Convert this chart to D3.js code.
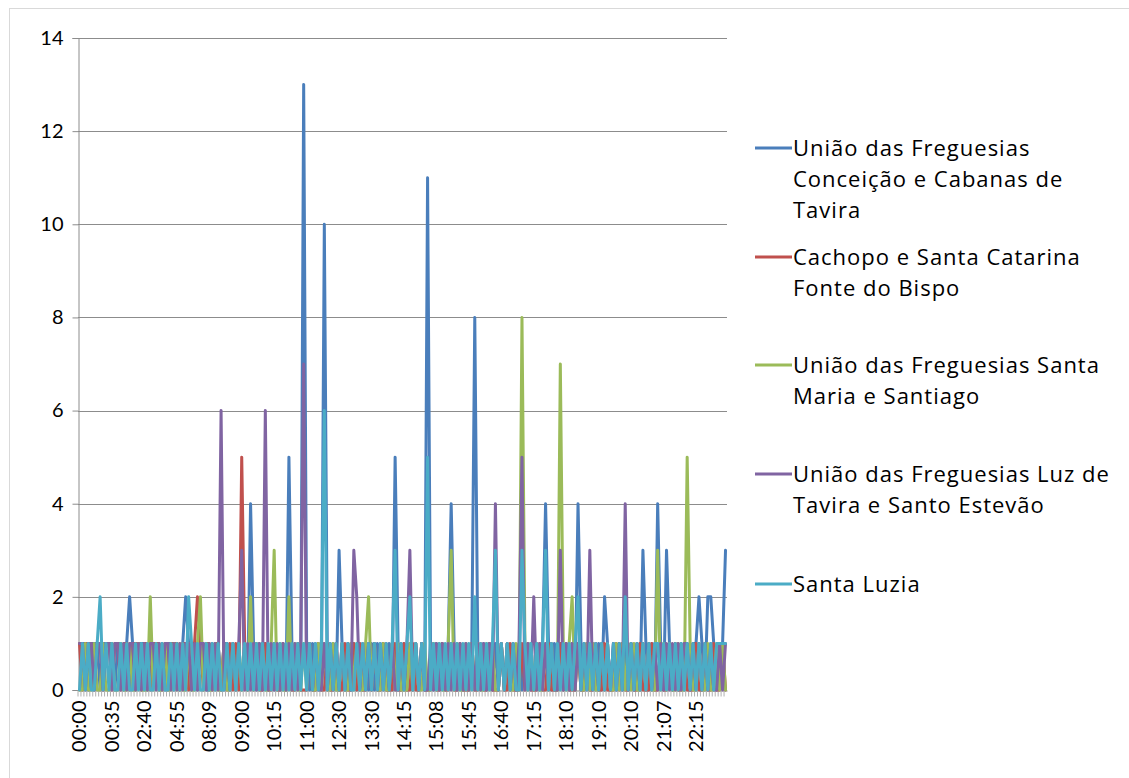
<!DOCTYPE html>
<html lang="pt">
<head>
<meta charset="UTF-8">
<title>Ocorrências por hora</title>
<script src="https://cdn.jsdelivr.net/npm/d3@7/dist/d3.min.js"></script>
<style>
    body { margin: 0; background: #fff; }
    text { font-family: Lato, "Open Sans", sans-serif; fill: #000; }
    .legend text { font-family: "Open Sans", Lato, sans-serif; letter-spacing: 1px; }
    .grid line { stroke: #8c8c8c; stroke-width: 1; }
    .series { fill: none; stroke-width: 3; stroke-linejoin: round; stroke-linecap: round; }
</style>
</head>
<body>
<div id="chart"></div>
<script>
    var width = 1129, height = 778;

    // one label shown every 11 categories (220 categories in total)
    var xLabels = ["00:00","00:35","02:40","04:55","08:09","09:00","10:15","11:00","12:30","13:30",
                   "14:15","15:08","15:45","16:40","17:15","18:10","19:10","20:10","21:07","22:15"];
    var labelStep = 11;
    var yTicks = [0, 2, 4, 6, 8, 10, 12, 14];

    var seriesNames = [
        "União das Freguesias Conceição e Cabanas de Tavira",
        "Cachopo e Santa Catarina Fonte do Bispo",
        "União das Freguesias Santa Maria e Santiago",
        "União das Freguesias Luz de Tavira e Santo Estevão",
        "Santa Luzia"
    ];
    var colors = ["#4a7ebb", "#c0504d", "#9bbb59", "#8064a2", "#4bacc6"];

    var conceicao = [
        1,1,1,0,1,1,1,0,1,1,1,  1,0,1,1,0,1,2,1,0,1,1,  1,0,1,1,1,0,1,0,1,1,0,  1,0,1,2,1,0,1,0,1,1,0,
        0,1,0,1,0,1,1,0,1,0,1,  0,1,0,4,1,0,1,0,1,0,1,  0,1,0,1,0,5,1,0,1,0,13, 1,0,1,0,1,0,10,1,0,1,0,
        3,1,0,1,0,1,0,1,0,1,0,  1,0,1,0,1,0,1,0,5,1,0,  1,0,1,0,1,0,1,0,11,1,0, 1,0,1,0,1,4,1,0,1,0,1,
        0,1,8,1,0,1,0,1,0,1,0,  1,0,1,0,1,0,1,0,1,0,1,  0,1,0,1,4,1,0,1,0,1,0,  1,0,1,0,4,1,0,1,0,1,0,
        1,0,2,1,0,1,0,1,0,1,0,  1,0,1,0,3,1,0,1,0,4,1,  0,3,1,0,1,0,1,0,1,0,1,  1,2,1,0,2,2,1,0,1,1,3
    ];
    var cachopo = [
        1,0,1,1,1,0,1,1,0,1,1,  0,1,1,0,1,1,0,1,1,1,0,  1,1,0,1,1,1,0,1,0,1,1,  1,0,1,1,0,1,1,2,1,0,1,
        1,0,1,1,0,1,0,1,0,1,0,  5,1,0,1,0,1,0,0,1,0,0,  1,0,0,1,0,1,0,0,1,0,0,  0,1,0,0,1,0,0,1,0,0,1,
        0,0,1,0,0,1,0,1,0,0,1,  0,1,0,0,1,0,0,0,1,0,0,  1,0,0,1,0,0,1,0,0,0,1,  0,0,1,0,0,1,0,0,1,0,0,
        0,1,0,0,1,0,0,1,0,0,0,  1,0,0,1,0,0,0,1,0,1,0,  0,0,1,0,0,1,0,0,0,1,0,  1,0,0,0,1,0,0,1,0,0,1,
        0,0,1,0,0,0,1,0,1,0,0,  1,0,0,1,0,0,0,1,0,0,1,  0,0,1,0,1,0,0,1,0,0,0,  1,0,0,1,0,0,1,0,0,1,0
    ];
    var santaMaria = [
        0,0,1,0,0,1,0,0,1,0,0,  1,0,0,1,0,0,1,0,0,1,0,  0,0,2,0,1,0,0,1,0,0,1,  0,1,0,0,1,0,0,1,2,0,1,
        0,0,1,0,0,1,0,0,1,0,1,  0,1,0,2,0,1,0,1,0,0,1,  3,0,1,0,0,2,0,1,0,0,1,  0,1,0,0,1,0,1,0,0,1,0,
        0,1,0,0,1,0,1,0,0,1,2,  0,1,0,0,1,0,0,1,0,1,0,  0,0,1,0,1,0,0,1,0,0,1,  0,1,0,0,1,3,0,1,0,0,1,
        0,1,0,1,0,0,1,0,1,0,0,  1,0,1,0,0,1,0,8,1,0,1,  0,1,0,0,1,0,1,0,0,7,1,  0,1,2,0,1,0,0,1,0,1,0,
        0,1,0,1,0,0,1,0,1,0,1,  0,1,0,0,1,0,1,0,0,3,0,  1,0,1,0,0,1,0,0,5,1,0,  0,1,0,0,1,0,0,1,0,1,0
    ];
    var luzTavira = [
        1,1,0,1,1,0,1,1,0,1,1,  0,1,1,0,1,0,1,1,0,1,0,  1,0,1,1,0,1,0,1,1,0,1,  0,1,0,1,1,0,1,0,1,1,0,
        1,0,1,0,6,0,1,0,1,0,1,  3,0,1,0,1,0,1,0,6,0,1,  0,1,0,1,0,1,0,1,0,1,7,  0,1,0,1,0,0,1,0,1,0,1,
        0,1,0,1,0,3,2,0,1,0,1,  0,1,0,1,0,1,0,1,0,0,1,  0,1,3,0,1,0,1,0,0,1,0,  1,0,1,0,1,0,1,0,1,0,1,
        0,1,0,1,0,1,0,1,0,4,0,  1,0,1,0,1,0,1,5,0,1,0,  2,0,1,0,1,0,1,0,0,3,0,  1,0,1,0,1,0,1,0,3,0,1,
        0,1,0,1,0,1,0,1,0,4,0,  1,0,1,0,1,0,1,0,1,0,1,  0,1,0,1,0,1,0,1,1,0,1,  0,1,0,1,0,1,0,0,1,0,1
    ];
    var santaLuzia = [
        0,1,0,1,0,0,1,2,0,1,0,  1,0,0,1,0,1,0,0,1,0,1,  0,1,0,0,1,0,1,0,0,1,0,  1,0,1,0,2,1,0,1,0,0,1,
        0,1,0,1,0,0,1,0,1,0,1,  0,1,0,1,0,1,0,1,0,1,0,  1,0,1,0,1,0,1,0,1,0,1,  0,1,0,1,0,1,6,0,1,0,1,
        0,1,0,1,0,0,1,0,1,0,1,  0,1,0,1,0,1,0,1,3,0,1,  0,1,2,0,1,0,1,0,5,0,1,  0,1,0,1,0,1,0,1,0,1,0,
        1,0,2,0,1,0,1,0,1,3,0,  1,0,1,0,1,0,0,3,1,0,1,  0,1,0,1,3,0,1,0,1,0,1,  0,1,0,1,2,0,1,0,1,0,1,
        0,1,0,1,0,1,0,1,0,2,0,  1,0,1,0,1,0,1,0,1,1,0,  1,0,1,0,1,0,1,0,1,0,1,  0,1,0,1,0,1,0,1,1,1,1
    ];

    var seriesValues = [conceicao, cachopo, santaMaria, luzTavira, santaLuzia];
    var nCats = conceicao.length;
    var categories = d3.range(nCats).map(function(i) {
        return i % labelStep === 0 ? xLabels[i / labelStep] : "";
    });

    var plot = {left: 78, right: 727, top: 38, bottom: 690};

    var svg = d3.select("#chart").append("svg")
        .attr("width", width)
        .attr("height", height);

    // outer chart frame
    svg.append("rect")
        .attr("x", 9.5).attr("y", 8.5)
        .attr("width", width).attr("height", height)
        .attr("fill", "none").attr("stroke", "#d9d9d9");

    var x = d3.scaleBand()
        .domain(d3.range(nCats))
        .range([plot.left, plot.right])
        .padding(0);

    var y = d3.scaleLinear()
        .domain([0, 14])
        .range([plot.bottom, plot.top]);

    // horizontal grid
    svg.append("g").attr("class", "grid")
        .selectAll("line")
        .data(yTicks.filter(function(d) { return d > 0; }))
        .enter().append("line")
        .attr("x1", plot.left).attr("x2", plot.right)
        .attr("y1", function(d) { return Math.round(y(d)) + 0.5; })
        .attr("y2", function(d) { return Math.round(y(d)) + 0.5; });

    // y axis
    var yAxis = svg.append("g")
        .attr("transform", "translate(" + (plot.left + 0.5) + ",0)")
        .call(d3.axisLeft(y).tickValues(yTicks).tickSize(6).tickPadding(9));
    yAxis.select(".domain").attr("stroke", "#8c8c8c");
    yAxis.selectAll(".tick line").attr("stroke", "#8c8c8c");
    yAxis.selectAll("text")
        .style("font-size", "20px")
        .attr("font-family", null);

    // x axis
    var xAxis = svg.append("g")
        .attr("transform", "translate(0," + (plot.bottom + 0.5) + ")")
        .call(d3.axisBottom(x).tickSize(6).tickSizeOuter(0)
            .tickFormat(function(i) { return categories[i]; }));
    xAxis.select(".domain").attr("stroke", "#8c8c8c");
    xAxis.selectAll(".tick line")
        .attr("stroke", "#b0b0b0")
        .attr("x1", -x.bandwidth() / 2).attr("x2", -x.bandwidth() / 2);
    xAxis.selectAll("text")
        .style("font-size", "20px")
        .attr("font-family", null)
        .attr("transform", "rotate(-90)")
        .attr("text-anchor", "end")
        .attr("x", -10)
        .attr("y", 0)
        .attr("dy", "0.35em");

    // series lines
    var line = d3.line()
        .x(function(d, i) { return x(i) + x.bandwidth() / 2; })
        .y(function(d) { return y(d); });

    svg.append("g").selectAll("path")
        .data(seriesValues)
        .enter().append("path")
        .attr("class", "series")
        .attr("stroke", function(d, i) { return colors[i]; })
        .attr("d", line);

    // legend
    var legendLines = [
        ["União das Freguesias", "Conceição e Cabanas de", "Tavira"],
        ["Cachopo e Santa Catarina", "Fonte do Bispo"],
        ["União das Freguesias Santa", "Maria e Santiago"],
        ["União das Freguesias Luz de", "Tavira e Santo Estevão"],
        ["Santa Luzia"]
    ];
    var legendY = [148, 257, 365, 474, 584];

    var legend = svg.append("g").attr("class", "legend")
        .selectAll("g")
        .data(legendLines)
        .enter().append("g")
        .attr("transform", function(d, i) { return "translate(755," + legendY[i] + ")"; });

    legend.append("line")
        .attr("x1", 0).attr("x2", 37)
        .attr("stroke-width", 3)
        .attr("stroke", function(d, i) { return colors[i]; });

    legend.append("text")
        .style("font-size", "22px")
        .selectAll("tspan")
        .data(function(d) { return d; })
        .enter().append("tspan")
        .attr("x", 38)
        .attr("y", function(d, j) { return j * 31; })
        .attr("dy", "0.35em")
        .text(function(d) { return d; });
</script>
</body>
</html>
